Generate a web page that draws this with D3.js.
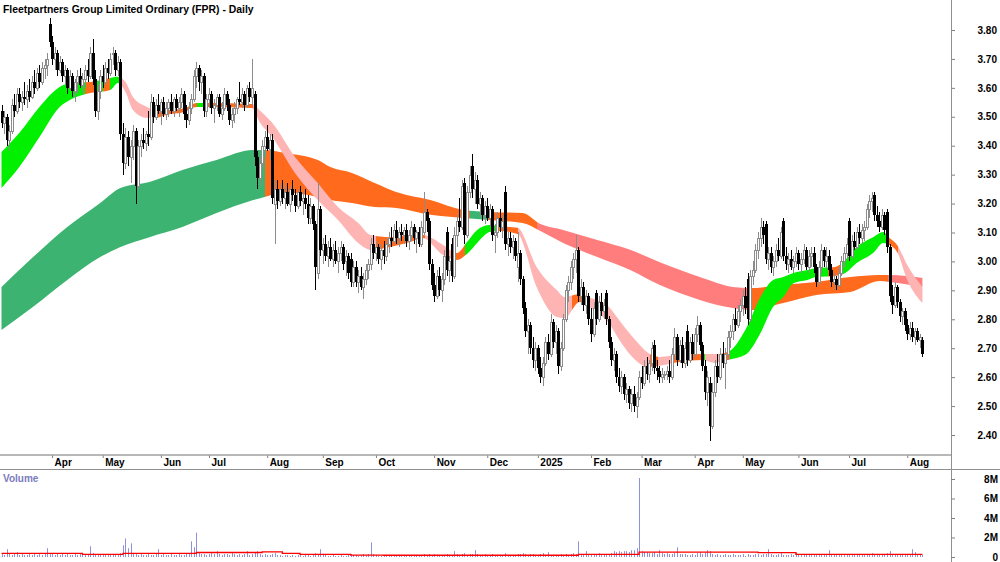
<!DOCTYPE html>
<html>
<head>
<meta charset="utf-8">
<script src="https://cdn.jsdelivr.net/npm/d3@7"></script>
<style>
  body { margin: 0; background: #fff; }
  svg { display: block; }
  text { font-family: Arial, "Liberation Sans", sans-serif; font-weight: bold; }
</style>
</head>
<body>
<svg></svg>
<script>
// daily candles [open, high, low, close], 1 Mar 2024 .. 11 Aug 2025
const ohlc = [
[3.52,3.54,3.46,3.48],[3.48,3.52,3.44,3.50],[3.50,3.51,3.40,3.42],[3.42,3.47,3.38,3.45],[3.45,3.56,3.44,3.54],
[3.54,3.58,3.50,3.52],[3.52,3.60,3.51,3.58],[3.58,3.60,3.53,3.55],[3.55,3.59,3.52,3.57],[3.57,3.62,3.54,3.56],
[3.56,3.61,3.53,3.59],[3.59,3.63,3.55,3.57],[3.57,3.64,3.56,3.62],[3.62,3.66,3.58,3.60],[3.60,3.67,3.59,3.65],
[3.65,3.68,3.60,3.62],[3.62,3.69,3.61,3.67],[3.67,3.70,3.63,3.68],[3.68,3.72,3.64,3.70],[3.82,3.84,3.74,3.76],
[3.76,3.78,3.68,3.70],[3.70,3.74,3.66,3.72],[3.72,3.73,3.64,3.66],[3.66,3.71,3.65,3.69],[3.69,3.70,3.62,3.64],
[3.64,3.68,3.61,3.66],[3.66,3.67,3.58,3.60],[3.60,3.66,3.59,3.64],[3.64,3.65,3.57,3.59],[3.59,3.63,3.55,3.62],
[3.62,3.66,3.58,3.64],[3.64,3.67,3.60,3.61],[3.61,3.65,3.58,3.63],[3.63,3.68,3.60,3.66],[3.66,3.70,3.62,3.64],
[3.64,3.74,3.63,3.72],[3.72,3.77,3.61,3.63],[3.63,3.66,3.50,3.52],[3.52,3.61,3.49,3.59],[3.59,3.66,3.56,3.64],
[3.64,3.68,3.60,3.62],[3.62,3.69,3.61,3.67],[3.67,3.70,3.63,3.65],[3.65,3.72,3.64,3.70],[3.72,3.74,3.68,3.72],
[3.72,3.73,3.64,3.66],[3.66,3.71,3.64,3.69],[3.69,3.70,3.42,3.44],[3.44,3.48,3.30,3.34],[3.34,3.46,3.32,3.43],
[3.43,3.45,3.33,3.36],[3.36,3.42,3.27,3.40],[3.40,3.47,3.35,3.45],[3.45,3.46,3.20,3.26],[3.26,3.42,3.25,3.40],
[3.40,3.44,3.36,3.42],[3.42,3.46,3.39,3.41],[3.41,3.45,3.38,3.44],[3.44,3.52,3.40,3.43],[3.43,3.58,3.42,3.55],
[3.55,3.57,3.48,3.50],[3.50,3.56,3.49,3.54],[3.54,3.58,3.51,3.52],[3.52,3.56,3.47,3.55],[3.55,3.57,3.50,3.51],
[3.51,3.55,3.49,3.53],[3.53,3.56,3.50,3.55],[3.55,3.58,3.51,3.52],[3.52,3.57,3.50,3.56],[3.56,3.58,3.52,3.53],
[3.53,3.57,3.50,3.55],[3.55,3.60,3.53,3.58],[3.58,3.59,3.49,3.51],[3.51,3.54,3.46,3.49],[3.49,3.55,3.47,3.53],
[3.53,3.58,3.51,3.56],[3.56,3.66,3.55,3.64],[3.64,3.69,3.60,3.67],[3.67,3.68,3.59,3.62],[3.62,3.66,3.58,3.64],
[3.64,3.65,3.50,3.52],[3.52,3.58,3.50,3.56],[3.56,3.60,3.53,3.58],[3.58,3.59,3.51,3.53],[3.53,3.56,3.48,3.54],
[3.54,3.58,3.52,3.57],[3.57,3.58,3.50,3.51],[3.51,3.55,3.49,3.53],[3.53,3.60,3.52,3.58],[3.58,3.59,3.52,3.54],
[3.54,3.56,3.47,3.49],[3.49,3.53,3.46,3.51],[3.51,3.55,3.48,3.53],[3.53,3.57,3.51,3.56],[3.56,3.62,3.54,3.55],
[3.55,3.60,3.53,3.58],[3.58,3.59,3.52,3.54],[3.54,3.61,3.53,3.60],[3.60,3.62,3.55,3.57],[3.57,3.70,3.54,3.60],
[3.58,3.59,3.33,3.36],[3.36,3.38,3.25,3.29],[3.29,3.36,3.26,3.34],[3.34,3.42,3.32,3.40],[3.40,3.45,3.36,3.43],
[3.43,3.47,3.38,3.39],[3.39,3.44,3.35,3.42],[3.42,3.44,3.20,3.22],[3.20,3.28,3.06,3.25],[3.25,3.28,3.18,3.21],
[3.21,3.27,3.19,3.25],[3.25,3.28,3.20,3.22],[3.22,3.26,3.18,3.24],[3.24,3.27,3.19,3.20],[3.20,3.26,3.17,3.25],
[3.25,3.28,3.21,3.23],[3.23,3.25,3.17,3.19],[3.19,3.25,3.18,3.24],[3.24,3.26,3.19,3.21],[3.21,3.24,3.16,3.22],
[3.22,3.25,3.18,3.20],[3.20,3.23,3.13,3.15],[3.15,3.22,3.13,3.19],[3.19,3.20,3.11,3.13],[3.13,3.14,2.90,2.98],
[2.96,3.27,2.94,3.18],[3.18,3.19,3.02,3.04],[3.04,3.08,2.99,3.06],[3.06,3.09,3.00,3.02],[3.02,3.07,2.98,3.05],
[3.05,3.08,3.00,3.01],[3.01,3.06,2.98,3.04],[3.04,3.07,2.99,3.00],[3.00,3.05,2.96,3.03],[3.03,3.07,3.00,3.05],
[3.05,3.06,2.97,2.99],[3.00,3.04,2.95,3.02],[3.02,3.03,2.94,2.96],[3.01,3.03,2.91,2.93],[2.93,3.00,2.91,2.98],
[2.98,3.00,2.91,2.93],[2.93,2.97,2.89,2.95],[2.95,2.98,2.90,2.91],[2.91,2.96,2.87,2.94],[2.94,2.99,2.92,2.97],
[2.97,3.01,2.94,2.99],[2.99,3.08,2.97,3.06],[3.06,3.09,3.01,3.03],[3.03,3.07,3.00,3.05],[3.05,3.06,2.99,3.01],
[3.01,3.06,2.97,3.04],[3.04,3.07,2.99,3.02],[3.02,3.08,3.00,3.06],[3.06,3.10,3.03,3.08],[3.08,3.12,3.05,3.07],
[3.07,3.13,3.06,3.11],[3.11,3.14,3.06,3.08],[3.08,3.12,3.05,3.10],[3.10,3.13,3.07,3.09],[3.09,3.12,3.06,3.11],
[3.11,3.13,3.05,3.07],[3.07,3.11,3.04,3.09],[3.09,3.14,3.07,3.12],[3.12,3.13,3.06,3.08],[3.08,3.11,3.03,3.10],
[3.10,3.12,3.05,3.06],[3.06,3.14,3.05,3.12],[3.10,3.24,3.09,3.17],[3.17,3.18,3.10,3.14],[3.14,3.15,2.97,2.99],
[2.99,3.01,2.90,2.92],[2.92,2.96,2.86,2.88],[2.88,2.97,2.87,2.95],[2.95,2.98,2.88,2.90],[2.90,2.96,2.86,2.94],
[2.94,3.04,2.92,3.02],[3.10,3.12,2.95,2.97],[2.97,3.02,2.93,3.00],[3.06,3.08,2.93,2.95],[2.95,3.12,2.94,3.09],
[3.09,3.16,3.05,3.14],[3.14,3.22,3.10,3.12],[3.12,3.28,3.11,3.26],[3.27,3.29,3.06,3.09],[3.09,3.26,3.08,3.24],
[3.24,3.33,3.22,3.30],[3.33,3.37,3.22,3.25],[3.25,3.31,3.20,3.28],[3.28,3.30,3.18,3.20],[3.20,3.24,3.15,3.22],
[3.22,3.23,3.14,3.16],[3.16,3.21,3.13,3.19],[3.19,3.22,3.14,3.15],[3.15,3.20,3.12,3.18],[3.18,3.19,3.07,3.09],
[3.09,3.13,3.03,3.10],[3.10,3.17,3.08,3.15],[3.15,3.18,3.10,3.12],[3.12,3.16,3.08,3.14],[3.24,3.26,3.04,3.06],
[3.06,3.10,3.02,3.08],[3.08,3.10,3.03,3.05],[3.05,3.09,3.01,3.07],[3.07,3.08,3.00,3.02],[2.98,3.10,2.93,3.03],
[3.03,3.04,2.92,2.94],[2.94,2.95,2.82,2.84],[2.84,2.86,2.74,2.76],[2.76,2.80,2.68,2.78],[2.78,2.79,2.68,2.70],
[2.70,2.74,2.63,2.66],[2.66,2.72,2.62,2.70],[2.70,2.71,2.61,2.63],[2.63,2.67,2.58,2.60],[2.60,2.67,2.57,2.65],
[2.65,2.74,2.64,2.72],[2.72,2.75,2.66,2.68],[2.68,2.82,2.67,2.79],[2.79,2.80,2.70,2.72],[2.72,2.78,2.68,2.76],
[2.76,2.77,2.61,2.64],[2.64,2.72,2.62,2.70],[2.70,2.82,2.69,2.80],[2.80,2.92,2.79,2.90],[2.90,2.95,2.86,2.93],
[2.93,3.00,2.90,2.98],[2.98,3.03,2.94,3.01],[3.01,3.09,2.96,3.04],[3.04,3.05,2.86,2.88],[2.88,2.94,2.85,2.91],
[2.91,2.93,2.83,2.85],[2.85,2.90,2.82,2.88],[2.88,2.89,2.78,2.80],[2.80,2.84,2.72,2.75],[2.75,2.86,2.74,2.84],
[2.89,2.90,2.78,2.80],[2.80,2.88,2.79,2.86],[2.86,2.89,2.81,2.83],[2.83,2.87,2.80,2.85],[2.89,2.90,2.78,2.80],
[2.80,2.81,2.70,2.72],[2.72,2.74,2.64,2.66],[2.66,2.70,2.62,2.68],[2.68,2.69,2.58,2.60],[2.60,2.63,2.55,2.57],
[2.57,2.62,2.54,2.60],[2.60,2.61,2.52,2.54],[2.54,2.58,2.51,2.56],[2.56,2.57,2.49,2.51],[2.51,2.56,2.48,2.54],
[2.54,2.57,2.48,2.50],[2.50,2.55,2.46,2.53],[2.53,2.62,2.52,2.60],[2.60,2.64,2.56,2.58],[2.58,2.66,2.57,2.64],
[2.64,2.67,2.59,2.61],[2.61,2.66,2.58,2.65],[2.65,2.72,2.62,2.70],[2.71,2.73,2.61,2.63],[2.63,2.66,2.59,2.62],
[2.62,2.64,2.58,2.60],[2.60,2.63,2.58,2.61],[2.61,2.62,2.59,2.61],[2.61,2.64,2.59,2.62],[2.62,2.66,2.58,2.60],
[2.60,2.70,2.59,2.68],[2.68,2.77,2.66,2.74],[2.74,2.75,2.64,2.66],[2.66,2.73,2.65,2.71],[2.71,2.74,2.63,2.65],
[2.65,2.72,2.63,2.70],[2.76,2.78,2.64,2.66],[2.66,2.74,2.65,2.72],[2.72,2.75,2.66,2.68],[2.68,2.77,2.67,2.75],
[2.75,2.81,2.72,2.78],[2.78,2.79,2.69,2.71],[2.71,2.72,2.62,2.64],[2.64,2.66,2.52,2.55],[2.55,2.62,2.50,2.60],
[2.58,2.60,2.38,2.43],[2.43,2.58,2.42,2.55],[2.55,2.66,2.53,2.64],[2.64,2.68,2.58,2.60],[2.60,2.70,2.59,2.68],
[2.68,2.72,2.63,2.65],[2.65,2.70,2.56,2.68],[2.68,2.76,2.66,2.74],[2.74,2.78,2.70,2.76],[2.76,2.82,2.73,2.80],
[2.80,2.84,2.76,2.78],[2.78,2.85,2.77,2.83],[2.83,2.87,2.79,2.85],[2.85,2.90,2.81,2.88],[2.88,2.91,2.82,2.84],
[2.94,2.96,2.78,2.80],[2.80,2.97,2.79,2.95],[2.95,3.00,2.92,2.97],[2.97,3.06,2.96,3.04],[3.04,3.10,3.01,3.08],
[3.08,3.15,3.05,3.12],[3.12,3.14,3.06,3.09],[3.13,3.14,2.99,3.01],[3.01,3.05,2.97,3.03],[3.03,3.05,2.96,2.98],
[2.98,3.02,2.95,3.00],[3.00,3.06,2.98,3.04],[3.04,3.08,3.00,3.02],[3.02,3.12,3.01,3.10],[3.14,3.15,3.00,3.02],
[3.02,3.05,2.97,2.99],[2.99,3.03,2.96,3.01],[3.01,3.04,2.97,2.98],[2.98,3.02,2.96,3.00],[3.00,3.05,2.98,3.03],
[3.03,3.04,2.97,2.99],[2.99,3.03,2.96,3.01],[3.01,3.06,2.99,3.04],[3.04,3.05,2.97,2.98],[2.98,3.04,2.96,3.02],
[3.02,3.05,2.98,3.03],[3.03,3.05,2.96,2.98],[2.98,2.99,2.91,2.93],[2.93,3.00,2.92,2.98],[2.98,3.06,2.96,3.04],
[3.04,3.05,2.98,3.00],[3.00,3.05,2.97,3.02],[3.02,3.04,2.95,2.97],[2.97,2.99,2.91,2.93],[2.93,2.96,2.90,2.94],
[2.94,2.95,2.90,2.92],[2.92,2.98,2.91,2.96],[2.96,3.02,2.95,3.00],[3.00,3.05,2.98,3.03],[3.03,3.08,3.01,3.06],
[3.14,3.15,3.00,3.02],[3.02,3.09,3.01,3.07],[3.07,3.10,3.04,3.05],[3.05,3.12,3.04,3.10],[3.10,3.13,3.06,3.08],
[3.08,3.13,3.06,3.11],[3.11,3.14,3.07,3.12],[3.12,3.20,3.11,3.18],[3.18,3.23,3.15,3.21],[3.21,3.24,3.17,3.22],
[3.23,3.24,3.14,3.16],[3.16,3.19,3.12,3.14],[3.14,3.17,3.10,3.12],[3.12,3.18,3.11,3.16],[3.16,3.17,3.09,3.11],
[3.17,3.18,3.03,3.05],[3.05,3.06,2.86,2.88],[2.88,2.92,2.82,2.85],[2.85,2.93,2.84,2.91],[2.91,2.92,2.84,2.86],
[2.86,2.87,2.79,2.81],[2.81,2.84,2.78,2.83],[2.83,2.84,2.76,2.78],[2.78,2.80,2.73,2.75],[2.75,2.79,2.73,2.77],
[2.77,2.79,2.72,2.74],[2.74,2.77,2.71,2.76],[2.76,2.77,2.72,2.73],[2.73,2.75,2.70,2.74],[2.73,2.74,2.67,2.68]
];

// daily volume, millions of shares
const volume = [
.3,.2,.8,.3,.2,.4,.5,.2,.3,.2, .2,.3,.2,.4,.2,.3,.2,.3,.9,.3,
.3,.2,.3,.2,.4,.2,.3,.2,.2,.3, .2,.3,.2,.2,.3,1.1,.4,.3,.2,.2,
.2,.3,.2,.2,.3,.2,.2,.4,1.2,1.9, .9,1.4,.4,.3,.2,.3,.2,.2,.3,.2,
.2,.3,.8,.2,.3,.2,.2,.3,.2,.2, .3,.2,.2,.3,.4,1.6,1.0,2.5,.4,.3,
.3,.2,.3,.4,.3,.6,.3,.2,.3,.3, .2,.4,.3,.2,.3,.2,.3,.6,.2,.3,
.4,.6,.3,.2,.3,.2,.2,.3,.4,.2, .2,.1,.2,.2,.1,.2,.1,.2,.2,.1,
.2,.2,.1,.2,.4,.3,.8,.3,.2,.1, .1,.2,.1,.1,.2,.1,.1,.2,.3,.2,
.2,.1,.2,.3,.2,.3,1.5,.3,.2,.1, .1,.2,.1,.1,.1,.2,.1,.1,.2,.1,
.1,.2,.1,.1,.2,.1,.2,.3,.2,.3, .2,.3,.2,.2,.1,.2,.3,.2,.2,.6,
.3,.2,.3,.4,.2,.3,.3,.7,.3,.2, .2,.3,.2,.2,.3,.2,.1,.2,.2,.4,
.2,.2,.1,.2,.3,.3,.4,.3,.2,.3, .3,.2,.2,.3,.4,.2,.5,.2,.2,.1,
.2,.3,.2,.3,.2,.3,.4,.3,1.6,.3, .2,.6,.3,.2,.2,.3,.4,.2,.3,.2,
.3,.4,.6,.5,.6,.5,.6,.6,.5,.7, .7,.9,8.1,.6,.5,.5,.4,.4,.5,.3,
.7,.4,.3,.4,.3,.3,.4,1.0,.3,.3, .3,.2,.2,.3,.2,.4,.5,.3,.4,.7,
.6,.3,.2,.3,.2,.2,.3,.2,.2,.3, .2,.2,.2,.3,.1,.3,.2,.2,.3,.3,
.2,.3,.3,.8,.3,.2,.2,.3,.4,.2, .2,.2,.3,.2,.4,.2,.2,.2,.3,.2,
.2,.3,.2,.2,.3,.2,.2,.7,.2,.3, .2,.2,.3,.2,.2,.3,.2,.2,.3,.2,
.3,.2,.2,.3,.4,.3,.2,.2,.3,.3, .4,.6,.3,.3,.2,.3,.3,.2,.2,.3,
.8,.5,.3,.3,.2
];

// average volume line: [from day, millions]
const volumeAvg = [[0,0.38],[32,0.27],[48,0.38],[77,0.46],[103,0.52],[111,0.38],[118,0.27],
  [138,0.2],[151,0.18],[228,0.27],[252,0.51],[299,0.44],[314,0.27],[364,0.27]];

// short-term ribbon: [day, upper, lower]
const shortRibbon = [
[0,3.378,3.254],[7,3.444,3.326],[15,3.534,3.430],[23,3.603,3.534],[27,3.617,3.558],[35,3.620,3.582],
[43,3.634,3.593],[46,3.638,3.617],[49,3.620,3.586],[52,3.568,3.523],[57.5,3.534,3.496],[61,3.523,3.496],
[65,3.523,3.506],[72.5,3.530,3.517],[77,3.548,3.534],[82,3.548,3.534],[99,3.544,3.530],[102,3.523,3.482],
[107,3.479,3.430],[116,3.361,3.306],[125,3.271,3.212],[133,3.188,3.143],[141,3.133,3.064],[146,3.091,3.040],
[153.5,3.084,3.050],[161.5,3.091,3.067],[166.5,3.091,3.081],[174.5,3.057,3.022],[180,3.029,3.005],
[184,3.067,3.026],[188,3.109,3.064],[193,3.126,3.102],[197,3.122,3.105],[204,3.116,3.095],[211.5,2.981,2.912],
[219.5,2.901,2.808],[222.5,2.877,2.804],[228.5,2.887,2.860],[232,2.877,2.843],[240,2.843,2.787],
[245,2.787,2.718],[250.5,2.728,2.659],[255.5,2.684,2.635],[260,2.670,2.639],[268,2.677,2.652],
[277,2.680,2.659],[282,2.680,2.649],[287,2.687,2.659],[294,2.763,2.677],[300,2.877,2.753],[305,2.936,2.843],
[309,2.946,2.877],[313,2.960,2.925],[318.5,2.970,2.936],[322,2.977,2.946],[329.5,2.981,2.950],
[333.5,3.005,2.960],[338,3.050,2.995],[344.5,3.084,3.029],[348.5,3.102,3.064],[351,3.081,3.057],
[354,3.057,3.033],[358,2.988,2.936],[364,2.912,2.856]
];

// long-term ribbon: [day, upper, lower]
const longRibbon = [
[0,2.912,2.763],[12.5,3.015,2.843],[26,3.119,2.936],[39,3.202,3.015],[47,3.254,3.050],[58.5,3.275,3.084],
[71.5,3.316,3.119],[85,3.351,3.167],[99.5,3.385,3.212],[104,3.385,3.223],[112,3.375,3.237],[125,3.351,3.223],
[130,3.326,3.212],[138.5,3.306,3.202],[147.5,3.271,3.188],[156,3.240,3.185],[169.5,3.212,3.161],
[182.5,3.178,3.150],[193,3.171,3.143],[206,3.167,3.133],[213,3.129,3.105],[222,3.109,3.064],
[235.5,3.074,3.015],[248.5,3.040,2.970],[260,2.998,2.919],[276,2.946,2.867],[289,2.912,2.839],
[296,2.908,2.832],[309,2.919,2.856],[322,2.929,2.884],[335.5,2.946,2.894],[347,2.953,2.932],
[351,2.953,2.929],[364,2.943,2.912]
];

// ribbon state from a given day: up / mixed / down
const shortState = [[0,'up'],[33,'mix'],[37.7,'up'],[40,'mix'],[43,'up'],[46.8,'down'],[60.7,'mix'],
  [77.3,'up'],[81.2,'mix'],[99.4,'down'],[148,'mix'],[167.4,'down'],[179.3,'mix'],[183.2,'up'],
  [195.8,'mix'],[204.2,'down'],[225.5,'mix'],[231.8,'down'],[256.3,'mix'],[259.5,'down'],[265,'mix'],
  [276.9,'up'],[278.1,'down'],[284.8,'mix'],[288,'up'],[326.7,'mix'],[332.6,'up'],[350.8,'mix'],
  [354.3,'down']];
const longState = [[0,'up'],[104.2,'mix'],[185.2,'up'],[192.3,'mix'],[211.7,'down'],[296.6,'mix'],
  [350.4,'down']];

const priceTicks = [2.4, 2.5, 2.6, 2.7, 2.8, 2.9, 3.0, 3.1, 3.2, 3.3, 3.4, 3.5, 3.6, 3.7, 3.8];
const volumeTicks = [0, 2, 4, 6, 8];
const volumeTickLabels = ['0', '2M', '4M', '6M', '8M'];
const monthLabels = ['Apr','May','Jun','Jul','Aug','Sep','Oct','Nov','Dec','2025','Feb','Mar','Apr','May','Jun','Jul','Aug'];
const holidays = ['2024-03-29','2024-04-01','2024-04-25','2024-06-10','2024-12-25','2024-12-26',
  '2025-01-01','2025-01-27','2025-04-18','2025-04-21','2025-04-25','2025-06-09'];

const w = 1000, h = 562;
const axisX = 951;          // right-hand scale line
const priceBottom = 455;

const svg = d3.select('svg').attr('width', w).attr('height', h);

// trading calendar -> first day of each month
const fmt = d3.timeFormat('%Y-%m-%d');
const days = d3.timeDays(new Date(2024, 2, 1), new Date(2025, 7, 12))
  .filter(d => d.getDay() % 6 !== 0 && !holidays.includes(fmt(d)));
const monthStarts = days.map((d, i) => i).filter(i => i > 0 && days[i].getMonth() !== days[i - 1].getMonth());

const x = d3.scaleLinear()
  .domain([0, ohlc.length - 1])
  .range([1.5, 1.5 + (ohlc.length - 1) * 2.53]);
const y = d3.scaleLinear().domain([2.4, 3.8]).range([435, 30]);
const yv = d3.scaleLinear().domain([0, 8]).range([557, 479]);

const colors = {
  short: { up: '#00f000', mix: '#ff6a1c', down: '#ffb4b4' },
  long: { up: '#3cb371', mix: '#ff6a1c', down: '#ff7d7d' }
};

const defs = svg.append('defs');
defs.append('clipPath').attr('id', 'priceClip')
  .append('rect').attr('x', 0).attr('y', 0).attr('width', axisX).attr('height', priceBottom);

const makeGradient = (id, states, pal) => {
  const g = defs.append('linearGradient').attr('id', id)
    .attr('gradientUnits', 'userSpaceOnUse')
    .attr('x1', 0).attr('x2', axisX).attr('y1', 0).attr('y2', 0);
  states.forEach((s, k) => {
    const a = k === 0 ? 0 : x(s[0]) / axisX;
    const b = k === states.length - 1 ? 1 : x(states[k + 1][0]) / axisX;
    g.append('stop').attr('offset', a).attr('stop-color', pal[s[1]]);
    g.append('stop').attr('offset', b).attr('stop-color', pal[s[1]]);
  });
};
makeGradient('longFill', longState, colors.long);
makeGradient('shortFill', shortState, colors.short);

const priceG = svg.append('g').attr('clip-path', 'url(#priceClip)');

const ribbon = d3.area()
  .x(d => x(d[0]))
  .y0(d => y(d[2]))
  .y1(d => y(d[1]))
  .curve(d3.curveMonotoneX);

priceG.append('path').datum(longRibbon).attr('d', ribbon).attr('fill', 'url(#longFill)');
priceG.append('path').datum(shortRibbon).attr('d', ribbon).attr('fill', 'url(#shortFill)');

// candles: each group sits at its own day
const cx = i => Math.round(x(i)) + 0.5;
const isUp = d => d[3] >= d[0];
const candle = priceG.selectAll('g.candle').data(ohlc).enter().append('g')
  .attr('class', 'candle')
  .attr('transform', (d, i) => `translate(${cx(i)},0)`);

candle.append('line')
  .attr('x1', 0).attr('x2', 0)
  .attr('y1', d => Math.round(y(d[1]))).attr('y2', d => Math.round(y(d[2])))
  .attr('stroke', d => isUp(d) ? '#8c8c8c' : '#000')
  .attr('stroke-width', 1);

candle.filter(d => isUp(d)).append('rect')
  .attr('x', -1)
  .attr('y', d => Math.round(y(d[3])) + 0.5)
  .attr('width', 2)
  .attr('height', d => Math.max(1, Math.round(y(d[0])) - Math.round(y(d[3]))))
  .attr('fill', '#fff').attr('stroke', '#8c8c8c').attr('stroke-width', 1);

candle.filter(d => !isUp(d)).append('rect')
  .attr('x', -1.5)
  .attr('y', d => Math.round(y(d[0])))
  .attr('width', 3)
  .attr('height', d => Math.max(1, Math.round(y(d[3])) - Math.round(y(d[0]))))
  .attr('fill', '#000');

// title
svg.append('text').attr('x', 3).attr('y', 13)
  .attr('font-size', '10.4px').attr('fill', '#000')
  .text('Fleetpartners Group Limited Ordinary (FPR) - Daily');

// price axis
const yAxis = d3.axisRight(y).tickValues(priceTicks).tickFormat(d3.format('.2f')).tickSize(4);
const yAxisG = svg.append('g').attr('transform', `translate(${axisX},0)`).call(yAxis);
yAxisG.select('.domain').remove();
yAxisG.selectAll('line').attr('stroke', '#808080');
yAxisG.selectAll('text').attr('x', 46).attr('text-anchor', 'end')
  .attr('font-size', '10px').attr('fill', '#000').attr('font-family', null);

// month axis
const xAxis = d3.axisBottom(x).tickValues(monthStarts)
  .tickFormat((d, k) => monthLabels[k]).tickSize(3);
const xAxisG = svg.append('g').attr('transform', `translate(0,${priceBottom})`).call(xAxis);
xAxisG.select('.domain').remove();
xAxisG.selectAll('line').attr('stroke', '#808080');
xAxisG.selectAll('text').attr('x', 2).attr('y', 4).attr('dy', '0.71em')
  .attr('text-anchor', 'start').attr('font-size', '10px').attr('fill', '#000').attr('font-family', null);

// frame lines
svg.append('line').attr('x1', 0).attr('x2', axisX).attr('y1', priceBottom).attr('y2', priceBottom)
  .attr('stroke', '#a0a0a0').attr('stroke-width', 1.5);
svg.append('line').attr('x1', 0).attr('x2', w).attr('y1', 469.5).attr('y2', 469.5)
  .attr('stroke', '#909090').attr('stroke-width', 1);
svg.append('line').attr('x1', axisX + 0.5).attr('x2', axisX + 0.5).attr('y1', 0).attr('y2', h)
  .attr('stroke', '#909090').attr('stroke-width', 1);

// volume panel
svg.append('text').attr('x', 3).attr('y', 482)
  .attr('font-size', '10px').attr('fill', '#7b7bbd').text('Volume');

svg.append('g').selectAll('line').data(volume).enter().append('line')
  .attr('x1', (d, i) => cx(i)).attr('x2', (d, i) => cx(i))
  .attr('y1', yv(0)).attr('y2', d => yv(d))
  .attr('stroke', '#9090d8').attr('stroke-width', 1);

svg.append('path').datum(volumeAvg)
  .attr('d', d3.line().x(d => x(d[0])).y(d => yv(d[1])).curve(d3.curveStepAfter))
  .attr('fill', 'none').attr('stroke', '#ff0000').attr('stroke-width', 1.3);

const vAxis = d3.axisRight(yv).tickValues(volumeTicks).tickFormat((d, k) => volumeTickLabels[k]).tickSize(4);
const vAxisG = svg.append('g').attr('transform', `translate(${axisX},0)`).call(vAxis);
vAxisG.select('.domain').remove();
vAxisG.selectAll('line').attr('stroke', '#808080');
vAxisG.selectAll('text').attr('x', 47).attr('text-anchor', 'end')
  .attr('font-size', '10px').attr('fill', '#000').attr('font-family', null);
</script>
</body>
</html>
